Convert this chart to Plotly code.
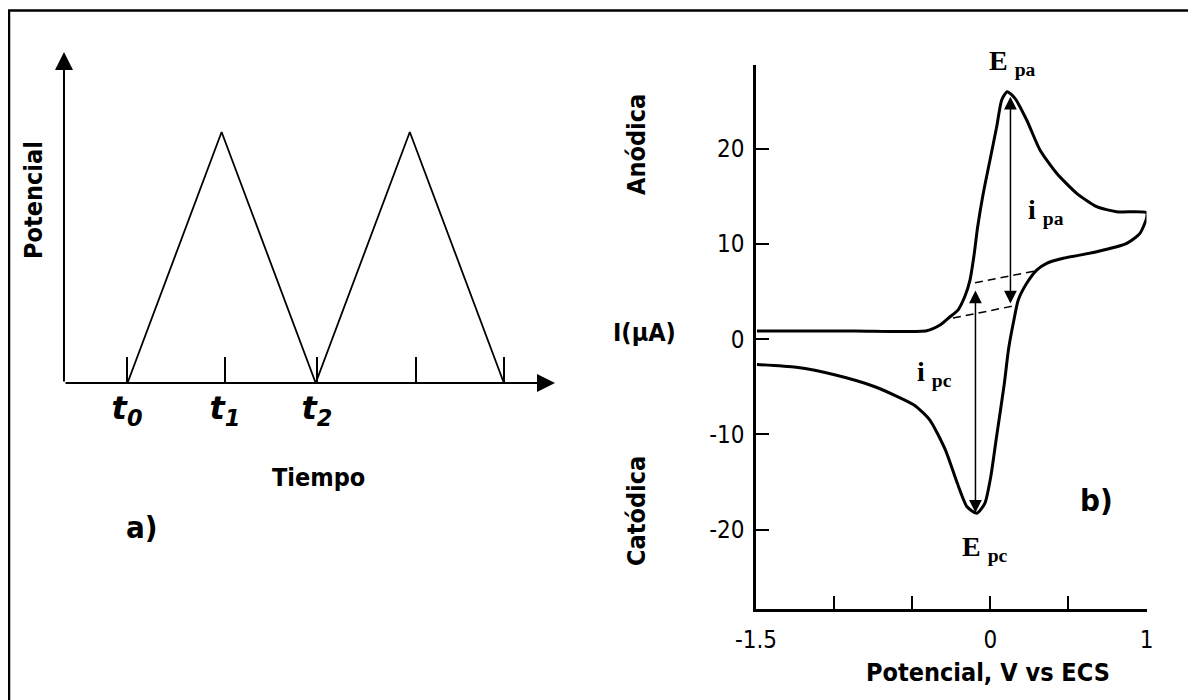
import plotly.graph_objects as go

# a) señal de excitación triangular
tiempo = [1, 2, 3, 4, 5]
potencial_onda = [0, 1, 0, 1, 0]
marcas_t = [0.995, 2.036, 3.013, 4.065, 5.0]
etiquetas_t = ["0", "1", "2", "", ""]

# b) voltamperograma cíclico (barrido de ida y vuelta)
E_V = [-1.494, -0.866, -0.407, -0.322, -0.258, -0.207, -0.162, -0.130, -0.104,
       -0.082, -0.045, -0.002, 0.041, 0.073, 0.108, 0.158, 0.233, 0.318, 0.425,
       0.553, 0.681, 0.809, 1.0,
       1.0, 0.958, 0.873, 0.681, 0.467, 0.361, 0.297, 0.233, 0.179, 0.151,
       0.116, 0.090, 0.040, 0.003, -0.035, -0.086, -0.149, -0.211, -0.287,
       -0.387, -0.488, -0.739, -0.991, -1.243, -1.494]
I_uA = [0.85, 0.85, 0.88, 1.48, 2.35, 3.05, 4.52, 6.20, 8.83,
        11.66, 15.30, 18.80, 22.29, 25.09, 25.97, 25.27, 23.0, 19.85, 17.40,
        15.30, 13.90, 13.37, 13.27,
        12.68, 11.10, 10.05, 9.17, 8.48, 7.96, 7.25, 5.86, 4.10, 2.0,
        -1.14, -4.64, -10.24, -14.44, -17.23, -18.28, -17.59, -15.13, -11.64,
        -8.49, -6.92, -5.00, -3.77, -2.96, -2.67]

base_sup_E = [-0.098, 0.297]
base_sup_I = [5.92, 7.18]
base_inf_E = [-0.239, 0.145]
base_inf_I = [2.21, 3.47]

Epa, ipa = 0.129, [3.58, 25.44]
Epc, ipc = -0.095, [5.26, -18.22]

ticks_I = [20, 10, 0, -10, -20]
ticks_E = [-1.5, -1, -0.5, 0, 0.5, 1]
etiq_E = ["-1.5", "", "", "0", "", "1"]

W, H = 1196, 700
OFF = 8  # margen del body de la página
FONT = "DejaVu Sans Condensed, DejaVu Sans, sans-serif"
SERIF = "Liberation Serif, Times New Roman, serif"


def px_x(xp):
    return (xp - OFF) / W


def px_y(yp):
    return 1 - (yp - OFF) / H


def pos(xp, yp):
    return px_x(xp), px_y(yp)


fig = go.Figure()

# panel a
fig.add_trace(go.Scatter(x=tiempo, y=potencial_onda, mode="lines",
                         line=dict(color="black", width=1.8),
                         xaxis="x2", yaxis="y2", showlegend=False))

# panel b
fig.add_trace(go.Scatter(x=E_V, y=I_uA, mode="lines",
                         line=dict(color="black", width=3, shape="spline", smoothing=0.6),
                         showlegend=False))
for ex, iy in [(base_sup_E, base_sup_I), (base_inf_E, base_inf_I)]:
    fig.add_trace(go.Scatter(x=ex, y=iy, mode="lines",
                             line=dict(color="black", width=1.5, dash="8px,5px"),
                             showlegend=False))

anns = []

# ejes con flecha del panel a
for x0, y0, x1, y1 in [(0.325, 0, 5.543, 0), (0.325, 0, 0.325, 1.319)]:
    anns.append(dict(x=x1, y=y1, ax=x0, ay=y0, xref="x2", yref="y2",
                     axref="x2", ayref="y2", text="", showarrow=True,
                     arrowhead=2, arrowsize=1.8, arrowwidth=2, arrowcolor="black"))

# flechas de corriente de pico
for e, (ia, ib) in [(Epa, ipa), (Epc, ipc)]:
    anns.append(dict(x=e, y=ib, ax=e, ay=ia, xref="x", yref="y", axref="x", ayref="y",
                     text="", showarrow=True, arrowside="end+start",
                     arrowhead=2, startarrowhead=2, arrowsize=1.7, startarrowsize=1.7,
                     arrowwidth=1.5, arrowcolor="black"))


def texto(t, xp, yp, size, family=FONT, bold=True, angle=0):
    x, y = pos(xp, yp)
    anns.append(dict(x=x, y=y, xref="paper", yref="paper", text=t, showarrow=False,
                     textangle=angle, xanchor="center", yanchor="middle",
                     font=dict(family=family, size=size, color="black",
                               weight="bold" if bold else "normal")))


texto("Potencial", 34, 200, 25, angle=-90)
texto("Tiempo", 318, 478, 25)
texto("a)", 142, 527, 31)
texto("b)", 1096, 500, 31)
texto("Anódica", 636, 145, 25, angle=-90)
texto("Catódica", 637, 511, 25, angle=-90)
texto("I(μA)", 644, 332, 25)
texto("Potencial, V vs ECS", 988, 672, 25)
texto("E <sub>pa</sub>", 1012, 62, 28, family=SERIF)
texto("i <sub>pa</sub>", 1046, 212, 28, family=SERIF)
texto("i <sub>pc</sub>", 934, 373, 28, family=SERIF)
texto("E <sub>pc</sub>", 985, 548, 28, family=SERIF)

fig.update_layout(
    template="none",
    width=W, height=H, autosize=False,
    margin=dict(l=0, r=0, t=0, b=0, pad=0, autoexpand=False),
    showlegend=False,
    paper_bgcolor="white", plot_bgcolor="white",
    annotations=anns,
    shapes=[dict(type="rect", xref="paper", yref="paper",
                 x0=px_x(9), y0=-0.05, x1=1.05, y1=px_y(10.5),
                 line=dict(color="black", width=2.5))],
    xaxis=dict(domain=[px_x(756), px_x(1146.5)], range=[-1.5, 1.0], anchor="y",
               automargin=False,
               showgrid=False, zeroline=False, showline=True, linewidth=2.5,
               linecolor="black", ticks="inside", ticklen=13, tickwidth=2,
               tickcolor="black", tickvals=ticks_E, ticktext=etiq_E,
               tickfont=dict(family=FONT, size=24, color="black"),
               ticklabelstandoff=8),
    yaxis=dict(domain=[px_y(608.5), px_y(65)], range=[-28.27, 28.77], anchor="x",
               automargin=False,
               showgrid=False, zeroline=False, showline=True, linewidth=2.5,
               linecolor="black", ticks="inside", ticklen=13, tickwidth=2,
               tickcolor="black", tickvals=ticks_I,
               ticktext=[str(v) for v in ticks_I],
               tickfont=dict(family=FONT, size=24, color="black"),
               ticklabelstandoff=4),
    xaxis2=dict(domain=[px_x(50), px_x(570)], range=[0.1764, 5.7025], anchor="y2",
                automargin=False,
                showgrid=False, zeroline=False, showline=False,
                ticks="inside", ticklen=26, tickwidth=2, tickcolor="black",
                tickvals=marcas_t,
                ticktext=[f"<i>t<sub>{n}</sub></i>" if n else "" for n in etiquetas_t],
                tickfont=dict(family="DejaVu Sans, sans-serif", size=32, color="black",
                              weight="bold"),
                ticklabelstandoff=3),
    yaxis2=dict(domain=[px_y(383), px_y(40)], range=[0, 1.3665], anchor="x2",
                automargin=False,
                showgrid=False, zeroline=False, showline=False, showticklabels=False),
)

fig.write_html("out.html")
